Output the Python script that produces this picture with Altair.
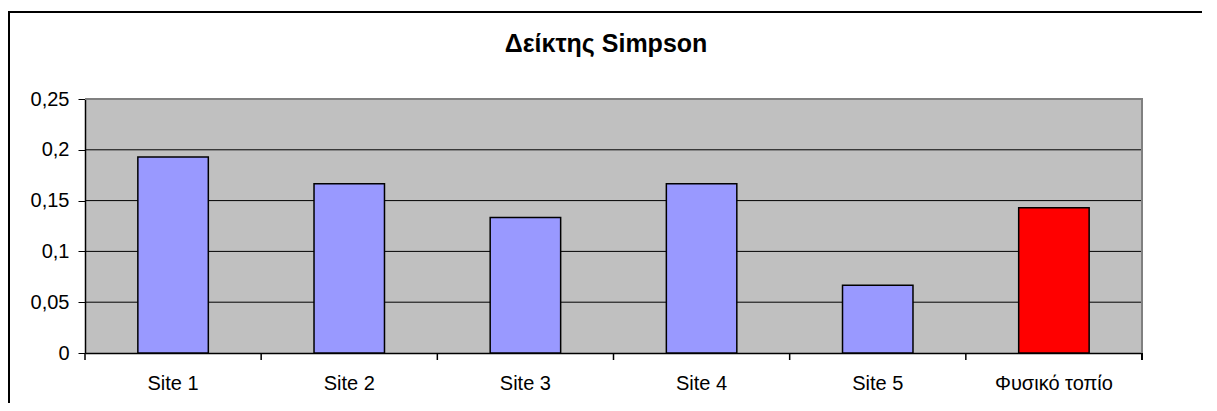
import altair as alt
import pandas as pd

sites = ["Site 1", "Site 2", "Site 3", "Site 4", "Site 5", "Φυσικό τοπίο"]
simpson = [0.193, 0.1667, 0.1333, 0.1667, 0.0667, 0.1429]
groups = ["site", "site", "site", "site", "site", "natural"]
grid_values = [0.05, 0.1, 0.15, 0.2]
y_ticks = [0, 0.05, 0.1, 0.15, 0.2, 0.25]
title_text = ["Δείκτης Simpson"]

W, H = 1057, 254
FONT = "Liberation Sans"

df = pd.DataFrame({"site": sites, "value": simpson, "group": groups})
grid_df = pd.DataFrame({"g": grid_values})
title_df = pd.DataFrame({"t": title_text})

xscale = alt.Scale(domain=sites, paddingInner=0, paddingOuter=0)
yscale = alt.Scale(domain=[0, 0.25], nice=False)

grid = alt.Chart(grid_df).mark_rule(color="black", strokeWidth=1).encode(
    y=alt.Y("g:Q", scale=yscale)
)

bars = alt.Chart(df).mark_bar(
    width=alt.RelativeBandSize(0.4), stroke="black", strokeWidth=1.5
).encode(
    x=alt.X("site:N", scale=xscale, sort=sites, title=None,
            axis=alt.Axis(labelAngle=0, ticks=False, domain=True, domainColor="black",
                          domainWidth=1.5, labelFontSize=20, labelFont=FONT,
                          labelColor="black", labelPadding=20)),
    y=alt.Y("value:Q", scale=yscale, title=None,
            axis=alt.Axis(values=y_ticks, grid=False, domainColor="black", domainWidth=1.5,
                          tickColor="black", tickSize=7, labelFontSize=20, labelFont=FONT,
                          labelColor="black", labelPadding=9,
                          labelExpr="replace(format(datum.value, '.2~f'), '.', ',')")),
    color=alt.Color("group:N", scale=alt.Scale(domain=["site", "natural"],
                                               range=["#9999FF", "#FF0000"]), legend=None),
)

xticks = alt.Chart(df).mark_rule(color="black", strokeWidth=1.5).encode(
    x=alt.X("site:N", scale=xscale, sort=sites, bandPosition=0),
    y=alt.value(H), y2=alt.value(H + 7),
)
end_tick = alt.Chart(df).mark_rule(color="black", strokeWidth=1.5).encode(
    x=alt.value(W), y=alt.value(H), y2=alt.value(H + 7),
)
top_border = alt.Chart(df).mark_rule(color="#808080", strokeWidth=2).encode(
    x=alt.value(0), x2=alt.value(W + 1), y=alt.value(0)
)
right_border = alt.Chart(df).mark_rule(color="#808080", strokeWidth=2).encode(
    x=alt.value(W), y=alt.value(0), y2=alt.value(H)
)
frame_top = alt.Chart(df).mark_rule(color="black", strokeWidth=2).encode(
    x=alt.value(-77), x2=alt.value(1140), y=alt.value(-87)
)
frame_left = alt.Chart(df).mark_rule(color="black", strokeWidth=2).encode(
    x=alt.value(-76), y=alt.value(-88), y2=alt.value(320)
)
title = alt.Chart(title_df).mark_text(
    font=FONT, fontSize=25, fontWeight="bold", color="black",
    align="center", baseline="alphabetic"
).encode(text="t:N", x=alt.value(521), y=alt.value(-47))

chart = alt.layer(
    grid, bars, xticks, end_tick, top_border, right_border, frame_top, frame_left, title
).properties(
    width=W, height=H,
    autosize=alt.AutoSizeParams(type="none"),
    padding={"left": 77, "top": 91, "right": 60, "bottom": 50},
    background="white",
).configure_view(fill="#C0C0C0", stroke=None)

chart.save("out.html", embed_options={"renderer": "svg", "actions": False})
